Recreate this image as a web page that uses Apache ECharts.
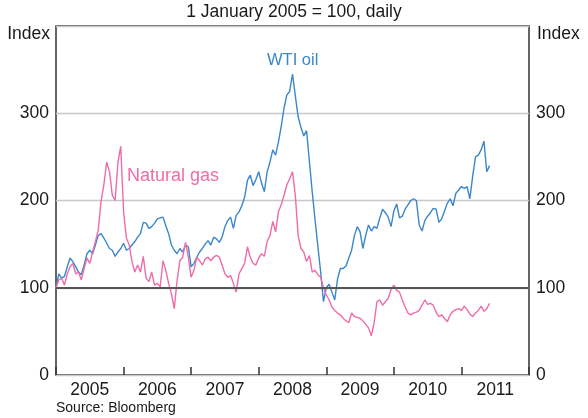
<!DOCTYPE html>
<html>
<head>
<meta charset="utf-8">
<script src="https://cdn.jsdelivr.net/npm/echarts@6/dist/echarts.min.js"></script>
<style>
html, body { margin: 0; padding: 0; background: #fff; }
#chart { width: 588px; height: 418px; }
</style>
</head>
<body>
<div id="chart"></div>
<script>
// half-monthly readings, starting 1 January 2005
var startYear = 2005;
var stepsPerYear = 24;
var years = ["2005", "2006", "2007", "2008", "2009", "2010", "2011"];
var yTicks = [0, 100, 200, 300];

var wtiOil = [
  100, 116, 111, 113, 124, 134, 130, 124, 118, 115, 126, 139, 143, 139, 149, 160, 162, 157, 151, 145, 143, 136, 141, 145,
  151, 143, 145, 149, 153, 158, 162, 175, 174, 168, 170, 174, 179, 180, 181, 171, 162, 149, 143, 139, 145, 141, 149, 147,
  124, 128, 135, 141, 145, 150, 154, 149, 158, 156, 152, 158, 170, 177, 181, 168, 183, 187, 194, 204, 223, 229, 217, 224,
  233, 220, 210, 233, 244, 258, 252, 267, 285, 306, 321, 325, 345, 320, 296, 284, 274, 280, 245, 210, 178, 148, 118, 84,
  100, 104, 95, 86, 110, 122, 122, 125, 134, 143, 160, 170, 164, 145, 160, 172, 165, 170, 168, 180, 190, 186, 181, 170,
  188, 196, 180, 182, 190, 195, 200, 202, 200, 172, 165, 177, 182, 186, 191, 190, 175, 179, 188, 197, 202, 194, 208, 212,
  216, 214, 216, 202, 228, 250, 252, 258, 268, 233, 240
];

var naturalGas = [
  100, 109, 111, 103, 116, 124, 128, 116, 118, 109, 122, 134, 128, 141, 153, 166, 199, 218, 244, 233, 206, 200, 244, 262,
  187, 157, 149, 130, 118, 126, 118, 136, 111, 107, 118, 103, 105, 101, 131, 120, 105, 93, 76, 108, 131, 135, 152, 135,
  112, 120, 135, 131, 126, 133, 135, 131, 135, 137, 135, 126, 116, 112, 114, 105, 95, 116, 122, 128, 147, 135, 128, 126,
  134, 139, 136, 153, 160, 176, 164, 187, 195, 206, 218, 225, 233, 206, 160, 145, 141, 130, 137, 118, 120, 115, 112, 100,
  92, 86, 78, 74, 71, 69, 65, 62, 60, 71, 67, 66, 65, 62, 58, 54, 45, 60, 84, 86, 80, 84, 88, 98,
  103, 97, 95, 86, 78, 71, 69, 71, 72, 74, 80, 86, 81, 82, 80, 72, 67, 69, 65, 61, 69, 73, 75, 76,
  74, 79, 75, 70, 67, 71, 74, 79, 73, 76, 82
];

function toPoints(values) {
  return values.map(function (v, i) {
    return [startYear + i / stepsPerYear, v];
  });
}

var font = "'Liberation Sans', Arial, sans-serif";
var textColor = "#1a1a1a";
var blue = "#3a87c9";
var pink = "#f06ca8";

var myChart = echarts.init(document.getElementById("chart"));
myChart.setOption({
  animation: false,
  backgroundColor: "#fff",
  textStyle: { fontFamily: font },
  grid: {
    left: 56,
    right: 59,
    top: 26,
    bottom: 43,
    show: true,
    borderColor: "#333",
    borderWidth: 1.5,
  },
  xAxis: [
    {
      type: "value",
      min: 2005,
      max: 2012,
      position: "top",
      show: false,
    },
    {
      type: "category",
      data: years,
      position: "bottom",
      boundaryGap: true,
      axisLine: { show: false },
      axisTick: {
        show: true,
        inside: true,
        length: 8,
        interval: 0,
        lineStyle: { color: "#333", width: 1.5 },
      },
      axisLabel: {
        interval: 0,
        fontSize: 17.5,
        color: textColor,
        margin: 6,
        fontFamily: font,
      },
      splitLine: { show: false },
    },
  ],
  yAxis: [
    {
      type: "value",
      min: 0,
      max: 400,
      interval: 100,
      position: "left",
      axisLine: { show: false },
      axisTick: { show: false },
      axisLabel: {
        fontSize: 17.5,
        color: textColor,
        margin: 7,
        fontFamily: font,
        formatter: function (v) {
          return yTicks.indexOf(v) >= 0 ? String(v) : "";
        },
      },
      splitLine: { lineStyle: { color: "#c8c8c8", width: 1.3 } },
    },
    {
      type: "value",
      min: 0,
      max: 400,
      interval: 100,
      position: "right",
      axisLine: { show: false },
      axisTick: { show: false },
      axisLabel: {
        fontSize: 17.5,
        color: textColor,
        margin: 7,
        fontFamily: font,
        formatter: function (v) {
          return yTicks.indexOf(v) >= 0 ? String(v) : "";
        },
      },
      splitLine: { show: false },
    },
  ],
  series: [
    {
      name: "WTI oil",
      type: "line",
      xAxisIndex: 0,
      yAxisIndex: 0,
      symbol: "none",
      lineStyle: { color: blue, width: 1.4 },
      data: toPoints(wtiOil),
      markLine: {
        silent: true,
        symbol: "none",
        label: { show: false },
        lineStyle: { color: "#555", width: 2, type: "solid" },
        data: [{ yAxis: 100 }],
      },
    },
    {
      name: "Natural gas",
      type: "line",
      xAxisIndex: 0,
      yAxisIndex: 0,
      symbol: "none",
      lineStyle: { color: pink, width: 1.4 },
      data: toPoints(naturalGas),
    },
  ],
  graphic: [
    {
      type: "text",
      left: "center",
      top: 3,
      style: { text: "1 January 2005 = 100, daily", font: "17.5px " + font, fill: textColor },
    },
    {
      type: "text",
      x: 50,
      y: 34,
      style: { text: "Index", font: "17.5px " + font, fill: textColor, textAlign: "right", textVerticalAlign: "middle" },
    },
    {
      type: "text",
      x: 537,
      y: 34,
      style: { text: "Index", font: "17.5px " + font, fill: textColor, textAlign: "left", textVerticalAlign: "middle" },
    },
    {
      type: "text",
      x: 267,
      y: 60,
      style: { text: "WTI oil", font: "16.5px " + font, fill: blue, textAlign: "left", textVerticalAlign: "middle" },
    },
    {
      type: "text",
      x: 127,
      y: 176,
      style: { text: "Natural gas", font: "18px " + font, fill: pink, textAlign: "left", textVerticalAlign: "middle" },
    },
    {
      type: "text",
      x: 56,
      y: 408,
      style: { text: "Source: Bloomberg", font: "14px " + font, fill: textColor, textAlign: "left", textVerticalAlign: "middle" },
    },
  ],
});
</script>
</body>
</html>
